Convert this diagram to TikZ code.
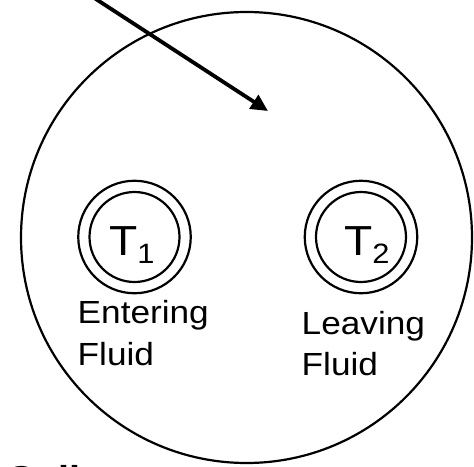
\documentclass[tikz,border=0pt]{standalone}
\usepackage{fontspec}
\setmainfont[FakeStretch=1.1]{Liberation Sans}
\usetikzlibrary{arrows.meta}
\tikzset{
  ring/.style={circle, draw, line width=2.2pt, inner sep=0pt},
  arrowline/.style={line width=3.8pt, -{Triangle[length=17pt,width=16pt]}},
  tlabel/.style={anchor=base west, inner sep=0pt, font=\fontsize{42}{42}\selectfont},
  fluid/.style={anchor=base west, inner sep=0pt, align=left, font=\fontsize{32}{42}\selectfont},
}
\begin{document}
\begin{tikzpicture}[x=1pt,y=-1pt]
\clip (0,0) rectangle (474,466);
\fill[white] (0,0) rectangle (474,466);
% main coil cross-section
\node[ring, minimum size=451pt] (coil) at (246.5,237.5) {};
% entering tube
\node[ring, minimum size=112.5pt] (t1out) at (134.5,237) {};
\node[ring, minimum size=90pt] (t1in) at (134.5,237) {};
% leaving tube
\node[ring, minimum size=112.5pt] (t2out) at (361,237) {};
\node[ring, minimum size=90pt] (t2in) at (361,237) {};
% temperature labels
\node[tlabel] (t1lab) at (109,255) {T\raisebox{-8pt}{\fontsize{28}{28}\selectfont 1}};
\node[tlabel] (t2lab) at (344,255) {T\raisebox{-8pt}{\fontsize{28}{28}\selectfont 2}};
% fluid labels (base anchor = baseline of last line)
\node[fluid] (enter) at (77.5,365) {Entering\\Fluid};
\node[fluid] (leave) at (301.5,375) {Leaving\\[-1pt]Fluid};
% coil label (cut off at the bottom)
\node[anchor=base west, inner sep=0pt, font=\fontsize{36}{36}\selectfont\bfseries] (coillab) at (6,491) {Coil};
% arrow
\coordinate (a0) at (82,-10);
\coordinate (a1) at (268,111);
\draw[arrowline] (a0) -- (a1);
\end{tikzpicture}
\end{document}
